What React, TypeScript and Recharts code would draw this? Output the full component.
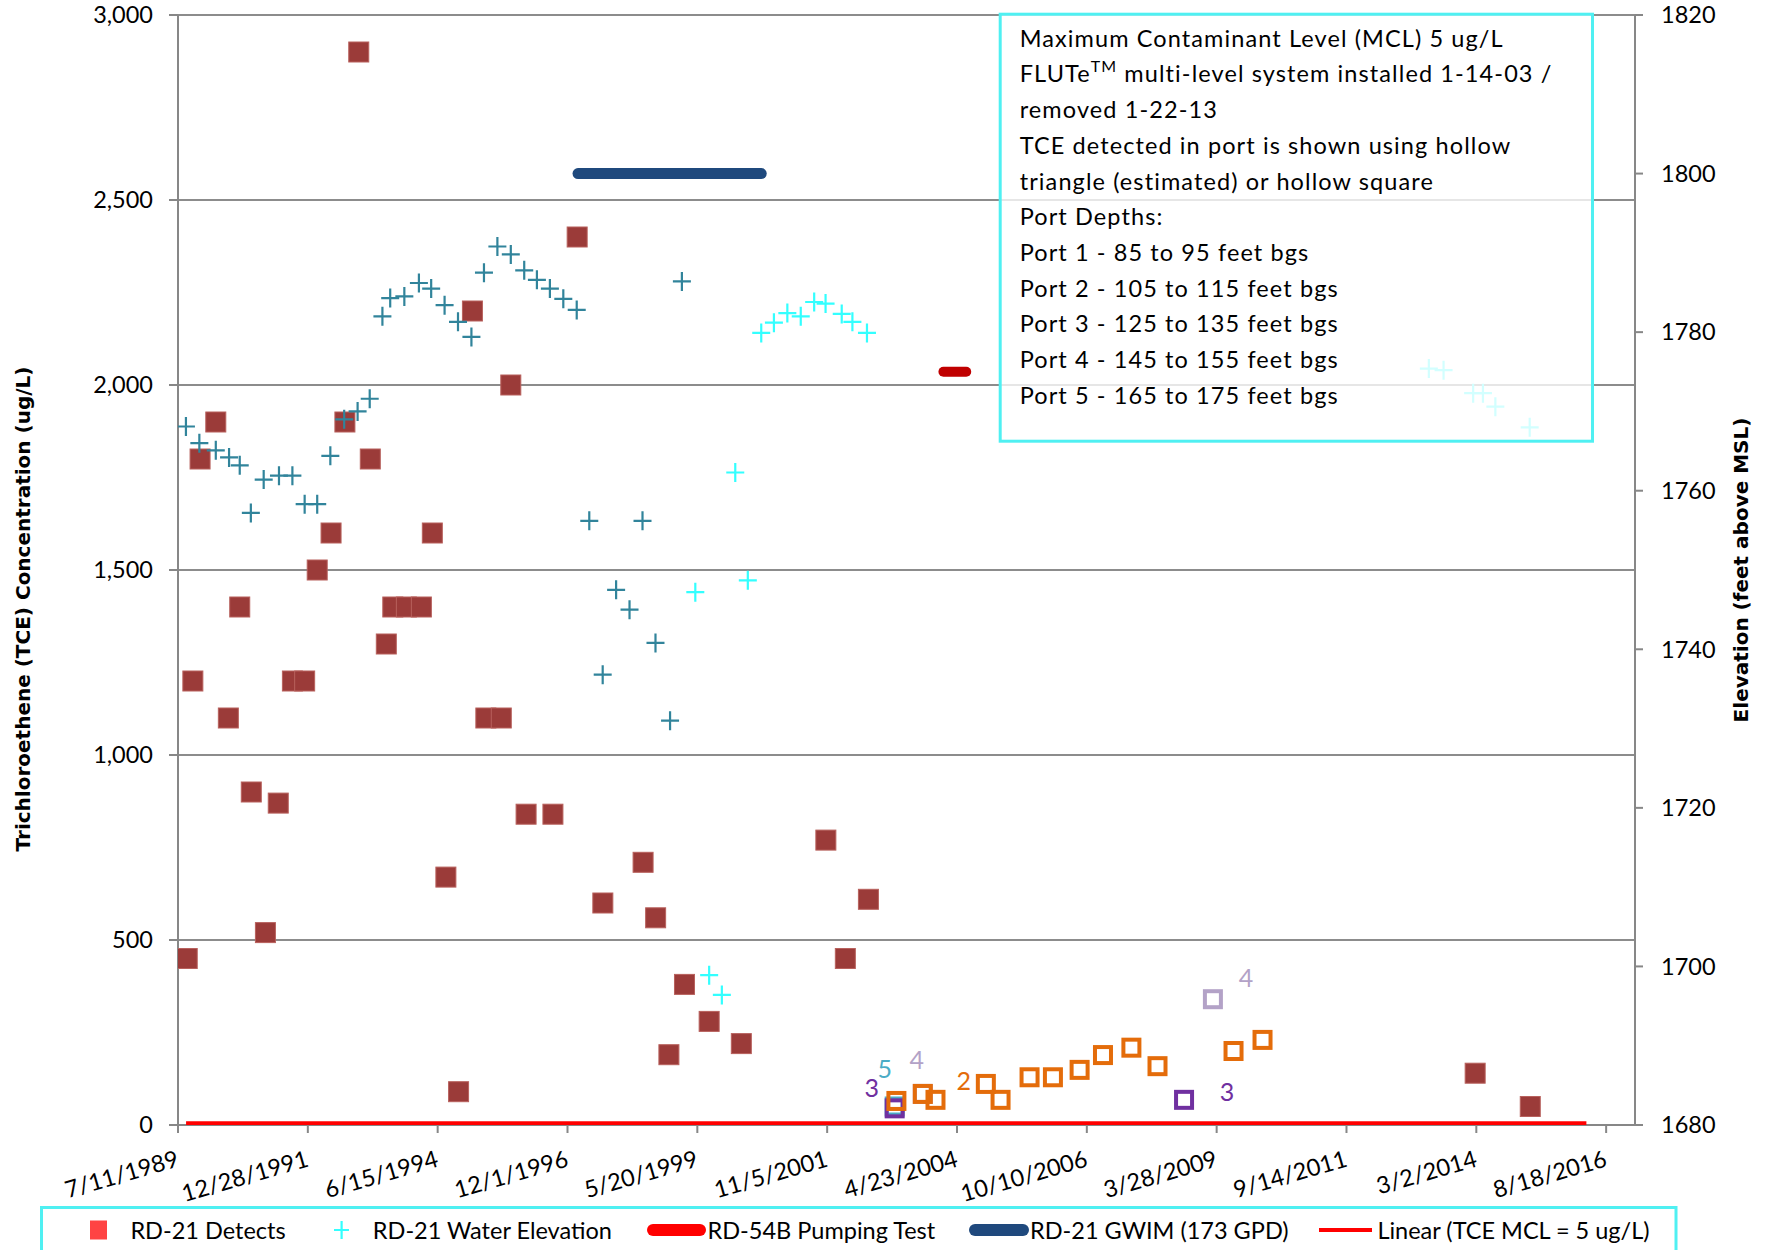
import React from "react";
import { ComposedChart, Scatter, XAxis, YAxis, CartesianGrid } from "recharts";

// ---- data -------------------------------------------------------------

const X_TICK_LABELS = [
  "7/11/1989", "12/28/1991", "6/15/1994", "12/1/1996", "5/20/1999", "11/5/2001",
  "4/23/2004", "10/10/2006", "3/28/2009", "9/14/2011", "3/2/2014", "8/18/2016",
];
const X_AXIS_END = "2017-03-06";

const TCE_TICKS = [0, 500, 1000, 1500, 2000, 2500, 3000];
const ELEV_TICKS = [1680, 1700, 1720, 1740, 1760, 1780, 1800, 1820];

// RD-21 TCE detects (ug/L)
const DETECT_DATES = [
  "1989-09-13", "1989-10-22", "1989-12-11", "1990-03-30", "1990-06-25", "1990-09-12",
  "1990-12-01", "1991-03-09", "1991-06-06", "1991-09-12", "1991-12-06", "1992-03-02",
  "1992-06-06", "1992-09-10", "1992-12-15", "1993-03-05", "1993-06-24", "1993-08-08",
  "1993-11-10", "1994-02-22", "1994-05-09", "1994-08-11", "1994-11-07", "1995-02-11",
  "1995-05-15", "1995-08-30", "1995-11-04", "1996-02-18", "1996-08-22", "1997-02-06",
  "1997-08-03", "1998-05-09", "1998-08-04", "1998-11-04", "1999-02-20", "1999-08-10",
  "2000-03-20", "2001-10-27", "2002-03-11", "2002-08-18", "2014-02-22", "2015-03-11",
];
const DETECT_TCE = [
  450, 1200, 1800, 1900, 1100, 1400,
  900, 520, 870, 1200, 1200, 1500,
  1600, 1900, 2900, 1800, 1300, 1400,
  1400, 1400, 1600, 670, 90, 2200,
  1100, 1100, 2000, 840, 840, 2400,
  600, 710, 560, 190, 380, 280,
  220, 770, 450, 610, 140, 50,
];

// RD-21 water elevation (ft above MSL), older readings
const ELEV_OLD_DATES = [
  "1989-09-04", "1989-12-06", "1990-03-30", "1990-06-30", "1990-09-12", "1990-11-28",
  "1991-02-25", "1991-06-11", "1991-09-12", "1991-12-06", "1992-03-02", "1992-06-01",
  "1992-09-05", "1992-12-07", "1993-03-01", "1993-05-28", "1993-07-21", "1993-10-27",
  "1994-02-05", "1994-05-01", "1994-08-02", "1994-11-03", "1995-02-04", "1995-05-02",
  "1995-08-03", "1995-11-04", "1996-02-05", "1996-05-03", "1996-08-01", "1996-11-02",
  "1997-02-03", "1997-05-01", "1997-08-02", "1997-11-03", "1998-02-04", "1998-05-05",
  "1998-08-03", "1998-11-12", "1999-02-02",
];
const ELEV_OLD = [
  1768.1, 1766.0, 1765.1, 1764.2, 1763.2, 1757.2,
  1761.4, 1761.9, 1761.9, 1758.3, 1758.3, 1764.4,
  1769.0, 1770.0, 1771.6, 1782.0, 1784.3, 1784.5,
  1786.2, 1785.5, 1783.4, 1781.3, 1779.4, 1787.5,
  1790.8, 1789.8, 1787.8, 1786.6, 1785.5, 1784.2,
  1782.8, 1756.2, 1736.8, 1747.5, 1745.0, 1756.2,
  1740.8, 1731.0, 1786.4,
];

// RD-21 water elevation, later readings
const ELEV_NEW_DATES = [
  "1999-05-06", "1999-08-10", "1999-11-06", "2000-02-07", "2000-05-04", "2000-08-05",
  "2000-11-01", "2001-02-02", "2001-05-06", "2001-08-07", "2001-10-25", "2002-02-14",
  "2002-04-29", "2002-08-08", "2013-04-07", "2013-07-18", "2014-02-08", "2014-04-17",
  "2014-07-12", "2015-03-07",
];
const ELEV_NEW = [
  1747.2, 1698.9, 1696.4, 1762.3, 1748.7, 1779.9,
  1781.2, 1782.4, 1782.0, 1783.8, 1783.6, 1782.3,
  1781.3, 1779.9, 1775.4, 1775.2, 1772.3, 1772.3,
  1770.6, 1768.0,
];

// FLUTe port detects (ug/L)
const PORT2_DATES = [
  "2003-02-28", "2003-08-30", "2003-11-26", "2004-11-09", "2005-02-19", "2005-09-08",
  "2006-02-17", "2006-08-21", "2007-01-30", "2007-08-15", "2008-02-12", "2009-07-23",
  "2010-02-09",
];
const PORT2_TCE = [65, 84, 68, 111, 68, 129, 129, 149, 189, 209, 159, 200, 230];
const PORT3_DATES = ["2003-02-16", "2008-08-14"];
const PORT3_TCE = [45, 68];
const PORT4_DATES = ["2003-08-30", "2009-03-02"];
const PORT4_TCE = [84, 340];
const PORT5_DATES = ["2003-02-16"];
const PORT5_TCE = [50];

// bars and reference line
const GWIM_DATES = ["1997-02-12", "2000-08-05"];
const GWIM_ELEV = 1800;
const PUMP_DATES = ["2004-01-20", "2004-06-26"];
const PUMP_ELEV = 1775;
const MCL_DATES = ["1989-09-05", "2016-04-03"];
const MCL_TCE = 5;

const NOTE_LINES = [
  "Maximum Contaminant Level (MCL) 5 ug/L",
  "FLUTe|TM| multi-level system installed 1-14-03 /",
  "removed 1-22-13",
  "TCE detected in port is shown using hollow",
  "triangle (estimated) or hollow square",
  "Port Depths:",
  "Port 1 - 85 to 95 feet bgs",
  "Port 2 - 105 to 115 feet bgs",
  "Port 3 - 125 to 135 feet bgs",
  "Port 4 - 145 to 155 feet bgs",
  "Port 5 - 165 to 175 feet bgs",
];

// ---- helpers ----------------------------------------------------------

const DAY_MS = 86400000;
const W = 1771;
const H = 1250;

function isoDay(iso: string) {
  const [y, m, d] = iso.split("-").map(Number);
  return Date.UTC(y, m - 1, d) / DAY_MS;
}

function usDay(label: string) {
  const [m, d, y] = label.split("/").map(Number);
  return Date.UTC(y, m - 1, d) / DAY_MS;
}

function dayLabel(day: number) {
  const t = new Date(day * DAY_MS);
  return `${t.getUTCMonth() + 1}/${t.getUTCDate()}/${t.getUTCFullYear()}`;
}

const X_TICKS = X_TICK_LABELS.map(usDay);
const X_MIN = X_TICKS[0];
const X_MAX = isoDay(X_AXIS_END);

const tceRows = (dates: string[], vals: number[]) => dates.map((d, i) => ({ date: d, day: isoDay(d), tce: vals[i] }));
const elevRows = (dates: string[], vals: number[]) => dates.map((d, i) => ({ date: d, day: isoDay(d), elev: vals[i] }));

const detects = tceRows(DETECT_DATES, DETECT_TCE);
const elevOld = elevRows(ELEV_OLD_DATES, ELEV_OLD);
const elevNew = elevRows(ELEV_NEW_DATES, ELEV_NEW);
const port2 = tceRows(PORT2_DATES, PORT2_TCE);
const port3 = tceRows(PORT3_DATES, PORT3_TCE);
const port4 = tceRows(PORT4_DATES, PORT4_TCE);
const port5 = tceRows(PORT5_DATES, PORT5_TCE);
const gwim = elevRows(GWIM_DATES, GWIM_DATES.map(() => GWIM_ELEV));
const pump = elevRows(PUMP_DATES, PUMP_DATES.map(() => PUMP_ELEV));
const mcl = tceRows(MCL_DATES, MCL_DATES.map(() => MCL_TCE));

// ---- styling ----------------------------------------------------------

const FONT = "Lato, 'Open Sans', sans-serif";
const TITLE_FONT = "'DejaVu Sans', Verdana, sans-serif";
const FS = 23.5;
const AXIS_GRAY = "#878787";
const GRID_GRAY = "#8c8c8c";
const BOX_CYAN = "#4ff0f2";

const PORT_COLORS: Record<number, string> = { 2: "#e46c0a", 3: "#7030a0", 4: "#b3a2c7", 5: "#4bacc6" };

// port number tags: offset of tag centre from its marker
const PORT_TAGS: Record<string, [number, number]> = {
  "3:2003-02-16": [-23, -21],
  "5:2003-02-16": [-10, -39],
  "4:2003-08-30": [-6, -35],
  "2:2004-11-09": [-22, -4],
  "3:2008-08-14": [43, -9],
  "4:2009-03-02": [33, -22],
};

const detectSquare = (p: any) => (
  <rect x={p.cx - 10} y={p.cy - 10} width={20} height={20} fill="#9b3b39" stroke="#b8615d" strokeWidth={1} />
);

const plusMark = (color: string) => (p: any) => (
  <path d={`M${p.cx - 9},${p.cy}H${p.cx + 9}M${p.cx},${p.cy - 9.5}V${p.cy + 9.5}`} stroke={color} strokeWidth={2.2} fill="none" />
);

const portSquare = (port: number) => (p: any) => {
  const color = PORT_COLORS[port];
  const tag = PORT_TAGS[`${port}:${p.payload.date}`];
  return (
    <g>
      <rect x={p.cx - 8} y={p.cy - 8} width={16} height={16} fill="none" stroke={color} strokeWidth={4} />
      {tag && (
        <text x={p.cx + tag[0]} y={p.cy + tag[1]} fill={color} fontSize={25} fontFamily={FONT} textAnchor="middle" dominantBaseline="central">
          {port}
        </text>
      )}
    </g>
  );
};

const noMark = () => <g />;

function DateTick({ x, y, payload }: any) {
  return (
    <g transform={`translate(${x + 2},${y + 31}) rotate(-16)`}>
      <text textAnchor="end" fill="#000" fontSize={FS} fontFamily={FONT}>
        {dayLabel(payload.value)}
      </text>
    </g>
  );
}

function NoteBox() {
  const top = 46.7;
  const step = 35.71;
  return (
    <g>
      <rect x={1000.2} y={14.2} width={592.3} height={427} fill="#fff" fillOpacity={0.78} stroke={BOX_CYAN} strokeWidth={3} />
      {NOTE_LINES.map((line, i) => {
        const parts = line.split("|");
        return (
          <text key={i} x={1019.7} y={top + i * step} fontSize={FS} fontFamily={FONT} letterSpacing={1.1} fill="#000">
            {parts.length === 1 ? (
              line
            ) : (
              <>
                <tspan>{parts[0]}</tspan>
                <tspan fontSize={16} dy={-10}>{parts[1]}</tspan>
                <tspan dy={10}>{parts[2]}</tspan>
              </>
            )}
          </text>
        );
      })}
    </g>
  );
}

function LegendBox() {
  const cy = 1230;
  const base = 1238.5;
  const txt = { fontSize: FS, fontFamily: FONT, fill: "#000" } as const;
  return (
    <g>
      <rect x={41.5} y={1207.5} width={1634.5} height={80} fill="#fff" stroke={BOX_CYAN} strokeWidth={3} />
      <rect x={90} y={cy - 9.5} width={17} height={19} fill="#ff4343" />
      <text x={130.4} y={base} {...txt}>RD-21 Detects</text>
      <path d={`M${334},${cy}H${349}M${341.6},${cy - 9}V${cy + 9}`} stroke="#33ffff" strokeWidth={2.2} />
      <text x={372.8} y={base} {...txt}>RD-21 Water Elevation</text>
      <line x1={653} x2={700} y1={cy} y2={cy} stroke="#ff0000" strokeWidth={12} strokeLinecap="round" />
      <text x={707.5} y={base} {...txt}>RD-54B Pumping Test</text>
      <line x1={975} x2={1023} y1={cy} y2={cy} stroke="#1f497d" strokeWidth={12} strokeLinecap="round" />
      <text x={1030} y={base} {...txt}>RD-21 GWIM (173 GPD)</text>
      <line x1={1319} x2={1372} y1={cy} y2={cy} stroke="#ff0000" strokeWidth={4} />
      <text x={1377.4} y={base} {...txt}>Linear (TCE MCL = 5 ug/L)</text>
    </g>
  );
}

export default function App() {
  return (
    <div style={{ position: "absolute", left: 0, top: 0, width: W, height: H, overflow: "hidden", background: "#fff" }}>
      <ComposedChart width={W} height={H} margin={{ top: 15, right: 0, bottom: 0, left: 0 }}>
        <CartesianGrid yAxisId="tce" vertical={false} stroke={GRID_GRAY} strokeWidth={2} />
        <XAxis
          type="number"
          dataKey="day"
          domain={[X_MIN, X_MAX]}
          ticks={X_TICKS}
          interval={0}
          allowDataOverflow
          height={125}
          axisLine={{ stroke: AXIS_GRAY, strokeWidth: 2 }}
          tickLine={{ stroke: AXIS_GRAY, strokeWidth: 2 }}
          tickSize={8}
          tick={DateTick}
        />
        <YAxis
          yAxisId="tce"
          type="number"
          dataKey="tce"
          domain={[0, 3000]}
          ticks={TCE_TICKS}
          interval={0}
          allowDataOverflow
          width={178}
          axisLine={{ stroke: AXIS_GRAY, strokeWidth: 2 }}
          tickLine={{ stroke: AXIS_GRAY, strokeWidth: 2 }}
          tickSize={9}
          tickMargin={16}
          tick={{ fill: "#000", fontSize: FS, fontFamily: FONT }}
          tickFormatter={(v: number) => v.toLocaleString("en-US")}
        />
        <YAxis
          yAxisId="elev"
          orientation="right"
          type="number"
          dataKey="elev"
          domain={[1680, 1820]}
          ticks={ELEV_TICKS}
          interval={0}
          allowDataOverflow
          width={136}
          axisLine={{ stroke: AXIS_GRAY, strokeWidth: 2 }}
          tickLine={{ stroke: AXIS_GRAY, strokeWidth: 2 }}
          tickSize={8}
          tickMargin={18}
          tick={{ fill: "#000", fontSize: FS, fontFamily: FONT }}
        />

        <Scatter name="RD-21 Detects" yAxisId="tce" data={detects} shape={detectSquare} isAnimationActive={false} />
        <Scatter name="RD-21 Water Elevation (early)" yAxisId="elev" data={elevOld} shape={plusMark("#31849b")} isAnimationActive={false} />
        <Scatter name="RD-21 Water Elevation" yAxisId="elev" data={elevNew} shape={plusMark("#33ffff")} isAnimationActive={false} />
        <Scatter name="Port 5" yAxisId="tce" data={port5} shape={portSquare(5)} isAnimationActive={false} />
        <Scatter name="Port 3" yAxisId="tce" data={port3} shape={portSquare(3)} isAnimationActive={false} />
        <Scatter name="Port 4" yAxisId="tce" data={port4} shape={portSquare(4)} isAnimationActive={false} />
        <Scatter name="Port 2" yAxisId="tce" data={port2} shape={portSquare(2)} isAnimationActive={false} />
        <Scatter
          name="RD-54B Pumping Test"
          yAxisId="elev"
          data={pump}
          shape={noMark}
          line={{ stroke: "#c00000", strokeWidth: 10, strokeLinecap: "round" }}
          isAnimationActive={false}
        />
        <Scatter
          name="RD-21 GWIM (173 GPD)"
          yAxisId="elev"
          data={gwim}
          shape={noMark}
          line={{ stroke: "#1f497d", strokeWidth: 11, strokeLinecap: "round" }}
          isAnimationActive={false}
        />
        <Scatter
          name="Linear (TCE MCL = 5 ug/L)"
          yAxisId="tce"
          data={mcl}
          shape={noMark}
          line={{ stroke: "#ff0000", strokeWidth: 4 }}
          isAnimationActive={false}
        />
      </ComposedChart>

      <svg width={W} height={H} style={{ position: "absolute", left: 0, top: 0, pointerEvents: "none" }}>
        <NoteBox />
        <LegendBox />
        <text
          transform="translate(30,609) rotate(-90)"
          textAnchor="middle"
          fontSize={20}
          fontWeight="bold"
          fontFamily={TITLE_FONT}
          fill="#000"
        >
          Trichloroethene (TCE) Concentration (ug/L)
        </text>
        <text
          transform="translate(1748,570) rotate(-90)"
          textAnchor="middle"
          fontSize={20}
          fontWeight="bold"
          fontFamily={TITLE_FONT}
          fill="#000"
        >
          Elevation (feet above MSL)
        </text>
      </svg>
    </div>
  );
}
